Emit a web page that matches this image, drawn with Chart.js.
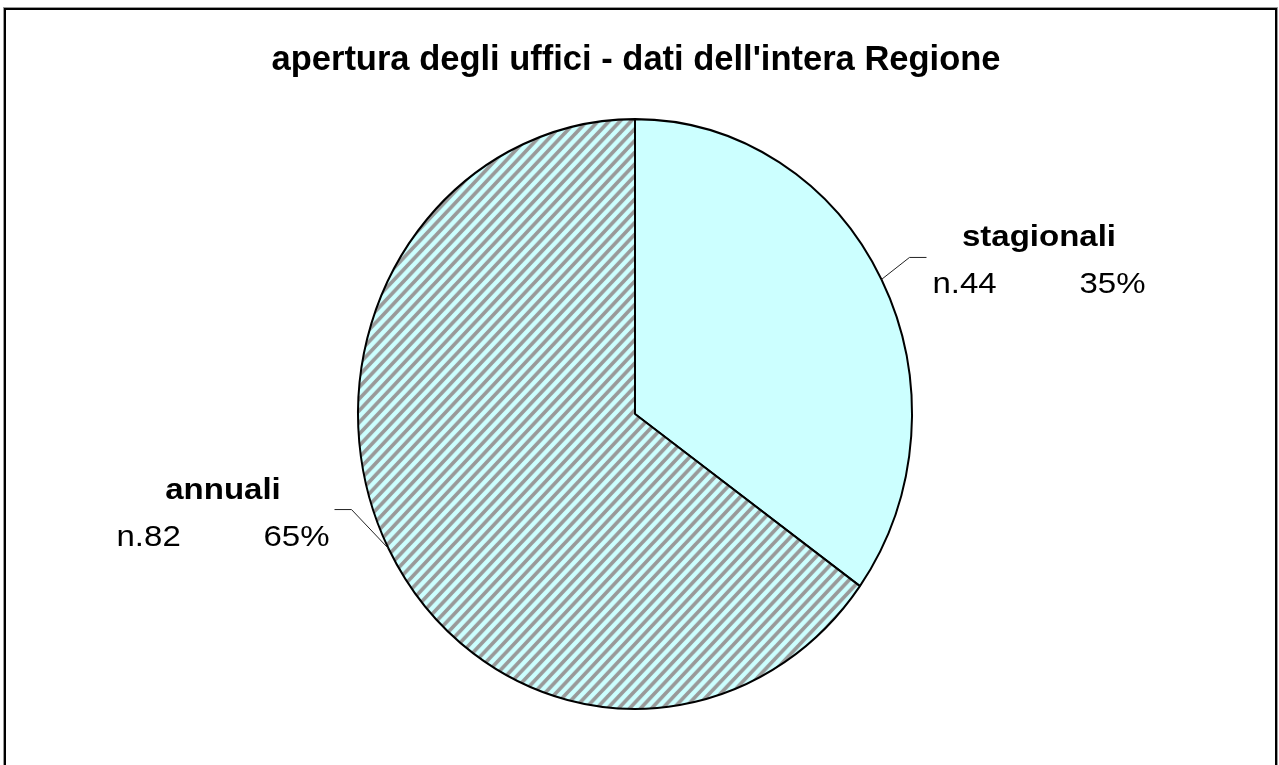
<!DOCTYPE html>
<html>
<head>
<meta charset="utf-8">
<script src="https://cdn.jsdelivr.net/npm/chart.js@4"></script>
<style>
    html, body { margin: 0; padding: 0; background: #fff; }
    #wrap { position: relative; width: 1279px; height: 765px; }
</style>
</head>
<body>
<div id="wrap"><canvas id="pieChart" width="1279" height="765"></canvas></div>
<script>
const chartTitle = "apertura degli uffici - dati dell'intera Regione";
const categories = ['stagionali', 'annuali'];
const counts = [44, 82];

// the original pie is a little taller than wide
const STRETCH_Y = 296 / 278;

function makeHatch() {
    const s = 11;
    const c = document.createElement('canvas');
    c.width = s; c.height = s;
    const g = c.getContext('2d');
    g.fillStyle = '#CCFFFF';
    g.fillRect(0, 0, s, s);
    g.strokeStyle = '#999999';
    g.lineWidth = 3.5;
    g.beginPath();
    g.moveTo(-s, s * 2); g.lineTo(s * 2, -s);
    g.moveTo(-s, s); g.lineTo(s, -s);
    g.moveTo(0, s * 2); g.lineTo(s * 2, 0);
    g.stroke();
    return g.createPattern(c, 'repeat');
}

function stretchedText(ctx, text, x, y, align, sx) {
    ctx.save();
    ctx.translate(x, y);
    ctx.scale(sx, 1);
    ctx.textAlign = align;
    ctx.fillText(text, 0, 0);
    ctx.restore();
}

const framePlugin = {
    id: 'frame',
    beforeDraw(chart) {
        const ctx = chart.ctx;
        ctx.save();
        ctx.strokeStyle = '#9a9a9a';
        ctx.lineWidth = 1;
        ctx.strokeRect(3.5, 7.5, 1274, 780);
        ctx.strokeStyle = '#000';
        ctx.lineWidth = 2;
        ctx.strokeRect(5, 9, 1271, 780);
        ctx.fillStyle = '#000';
        ctx.font = 'bold 34.5px "Liberation Sans", Arial, sans-serif';
        ctx.textBaseline = 'alphabetic';
        ctx.textAlign = 'center';
        ctx.fillText(chartTitle, 636, 70);
        ctx.restore();
    }
};

const ovalPlugin = {
    id: 'oval',
    beforeDatasetsDraw(chart) {
        const arc = chart.getDatasetMeta(0).data[0];
        const ctx = chart.ctx;
        ctx.save();
        ctx.translate(arc.x, arc.y);
        ctx.scale(1, STRETCH_Y);
        ctx.translate(-arc.x, -arc.y);
    },
    afterDatasetsDraw(chart) {
        chart.ctx.restore();
    }
};

// leader elbow offsets for right / left side labels
const elbowRight = { dx: 28, dy: -22 };
const elbowLeft = { dx: -37, dy: -39 };

const labelPlugin = {
    id: 'sliceLabels',
    afterDraw(chart) {
        const ctx = chart.ctx;
        const total = counts.reduce((a, b) => a + b, 0);
        const blockW = 213;
        chart.getDatasetMeta(0).data.forEach((arc, i) => {
            const mid = (arc.startAngle + arc.endAngle) / 2;
            const rx = arc.outerRadius;
            const ry = arc.outerRadius * STRETCH_Y;
            const px = arc.x + Math.cos(mid) * rx;
            const py = arc.y + Math.sin(mid) * ry;
            const side = Math.cos(mid) >= 0 ? 1 : -1;
            const elbow = side > 0 ? elbowRight : elbowLeft;
            const ex = px + elbow.dx;
            const ey = py + elbow.dy;
            const hx = ex + side * 17;

            ctx.save();
            ctx.strokeStyle = '#222';
            ctx.lineWidth = 1;
            ctx.beginPath();
            ctx.moveTo(px, py);
            ctx.lineTo(ex, ey);
            ctx.lineTo(hx, ey);
            ctx.stroke();

            const left = side > 0 ? hx + 6 : hx - 5 - blockW;
            const right = left + blockW;
            const pct = Math.round(counts[i] / total * 100) + '%';

            ctx.fillStyle = '#000';
            ctx.textBaseline = 'alphabetic';
            ctx.font = 'bold 30px "Liberation Sans", Arial, sans-serif';
            stretchedText(ctx, categories[i], (left + right) / 2, ey - 11, 'center', 1.1);
            ctx.font = '30px "Liberation Sans", Arial, sans-serif';
            stretchedText(ctx, 'n.' + counts[i], left, ey + 36, 'left', 1.1);
            stretchedText(ctx, pct, right, ey + 36, 'right', 1.1);
            ctx.restore();
        });
    }
};

new Chart(document.getElementById('pieChart'), {
    type: 'pie',
    data: {
        labels: categories,
        datasets: [{
            data: counts,
            backgroundColor: ['#CCFFFF', makeHatch()],
            borderColor: '#000',
            borderWidth: 2,
            clip: false
        }]
    },
    options: {
        responsive: false,
        animation: false,
        layout: { padding: { left: 357, right: 366, top: 136, bottom: 73 } },
        plugins: {
            legend: { display: false },
            tooltip: { enabled: false }
        }
    },
    plugins: [framePlugin, ovalPlugin, labelPlugin]
});
</script>
</body>
</html>
